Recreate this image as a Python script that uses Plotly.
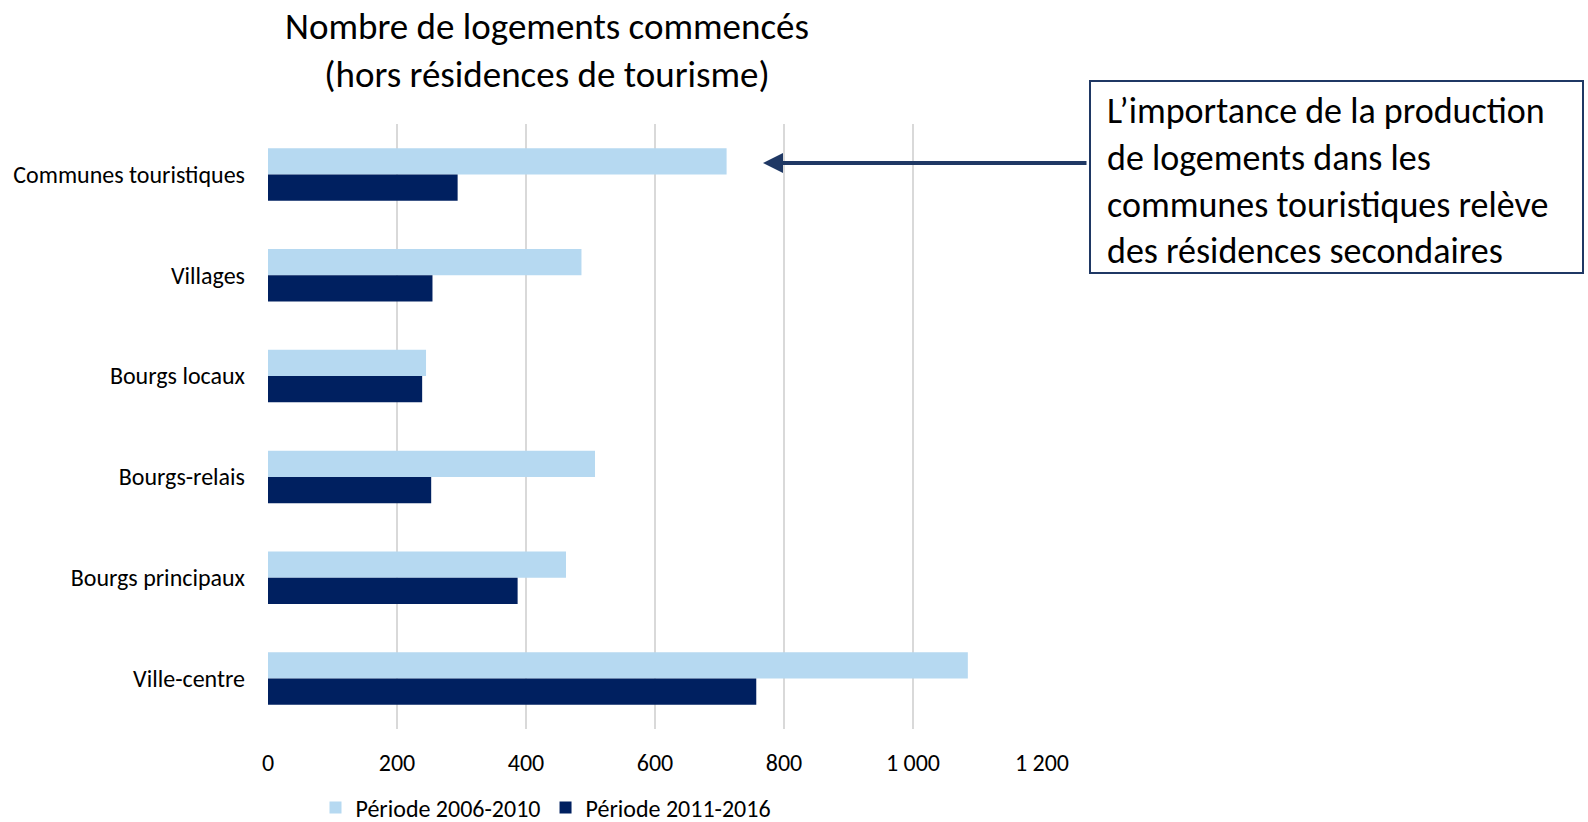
import plotly.graph_objects as go

# Housing starts by type of municipality, two periods
categories = [
    "Communes touristiques",
    "Villages",
    "Bourgs locaux",
    "Bourgs-relais",
    "Bourgs principaux",
    "Ville-centre",
]
period_2006_2010 = [711, 486, 245, 507, 462, 1085]
period_2011_2016 = [294, 255, 239, 253, 387, 757]
series_names = ["Période 2006-2010", "Période 2011-2016"]
tick_values = [0, 200, 400, 600, 800, 1000, 1200]
tick_labels = ["0", "200", "400", "600", "800", "1 000", "1 200"]

FONT = "Carlito, Lato, sans-serif"
LIGHT = "#B6D9F1"
DARK = "#002060"
NAVY = "#1F3864"

W, H = 1588, 822
L, R, T, B = 268, 546, 124, 93
PW, PH = W - L - R, H - T - B


def px_x(px):
    return (px - L) / PW


def px_y(py):
    return 1 - (py - T) / PH


fig = go.Figure()
fig.add_trace(go.Bar(
    y=categories, x=period_2006_2010, name=series_names[0],
    orientation="h", marker=dict(color=LIGHT, line=dict(width=0)),
))
fig.add_trace(go.Bar(
    y=categories, x=period_2011_2016, name=series_names[1],
    orientation="h", marker=dict(color=DARK, line=dict(width=0)),
))

fig.update_layout(
    width=W, height=H,
    margin=dict(l=L, r=R, t=T, b=B, autoexpand=False),
    paper_bgcolor="white", plot_bgcolor="white",
    barmode="group", bargap=0.48, bargroupgap=0,
    font=dict(family=FONT, color="#000000"),
    title=dict(
        text="Nombre de logements commencés<br>(hors résidences de tourisme)",
        font=dict(size=37, family=FONT, color="#000000"),
        x=px_x(547), xref="paper", xanchor="center",
        y=1 - 39 / H, yref="container", yanchor="middle",
    ),
    legend=dict(
        orientation="h", x=546 / W, xref="container", xanchor="center",
        y=1 - 808 / H, yref="container", yanchor="middle",
        font=dict(size=24, family=FONT, color="#000000"),
        traceorder="normal",
    ),
    showlegend=True,
)

fig.update_xaxes(
    range=[0, 1200], tickvals=tick_values, ticktext=tick_labels,
    showgrid=True, gridcolor="#D9D9D9", gridwidth=1.5,
    zeroline=False, showline=False, ticks="", automargin=False,
    tickfont=dict(size=24, family=FONT, color="#000000"),
    ticklabelstandoff=17,
)
fig.update_yaxes(
    autorange="reversed", showgrid=False, zeroline=False, showline=False,
    ticks="", automargin=False,
    tickfont=dict(size=24, family=FONT, color="#000000"),
    ticklabelstandoff=22,
)

# Call-out box with its text
fig.add_shape(
    type="rect", xref="paper", yref="paper",
    x0=px_x(1090), x1=px_x(1583), y0=px_y(273), y1=px_y(81),
    line=dict(color=NAVY, width=2), fillcolor="white",
)
fig.add_annotation(
    xref="paper", yref="paper", x=px_x(1105), y=px_y(181),
    xanchor="left", yanchor="middle", align="left", showarrow=False,
    text=("L’importance de la production<br>de logements dans les<br>"
          "communes touristiques relève<br>des résidences secondaires"),
    font=dict(size=36, family=FONT, color="#000000"),
)

# Arrow pointing at the tourist-municipality bars
fig.add_annotation(
    xref="paper", yref="paper", x=px_x(763), y=px_y(163),
    ax=1088 - 763, ay=0, axref="pixel", ayref="pixel",
    text="", showarrow=True, arrowhead=2, arrowsize=1.0,
    arrowwidth=4, arrowcolor=NAVY,
)

fig.write_html("out.html")
